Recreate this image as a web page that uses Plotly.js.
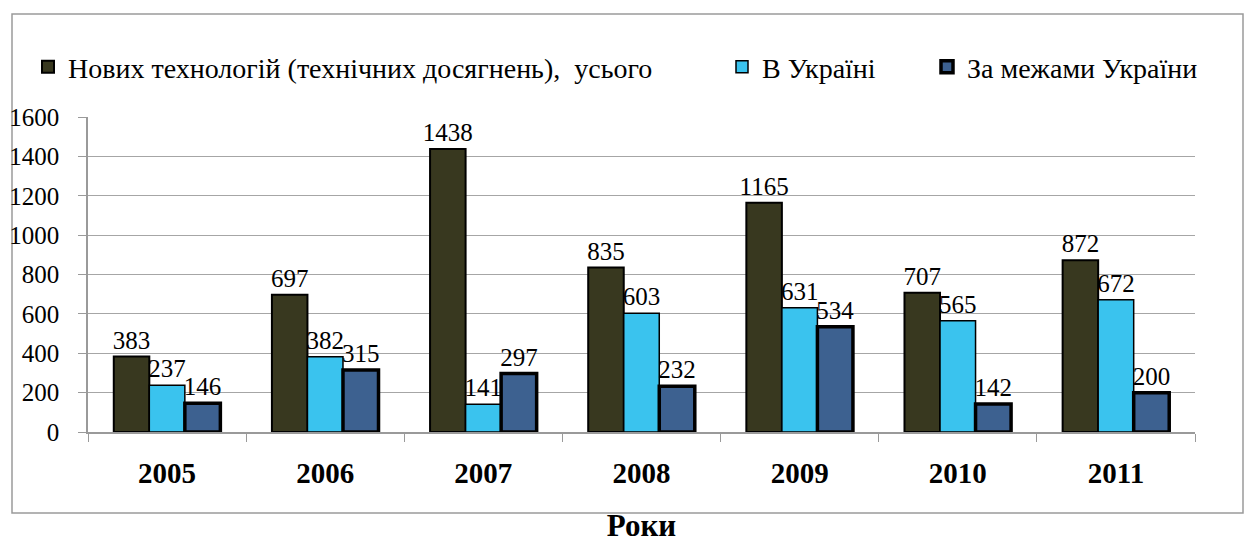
<!DOCTYPE html>
<html>
<head>
<meta charset="utf-8">
<script src="https://cdn.plot.ly/plotly-3.0.1.min.js"></script>
<style>html,body{margin:0;padding:0;background:#fff;}#chart{width:1246px;height:555px;}</style>
</head>
<body>
<div id="chart"></div>
<script>
const years = ['2005', '2006', '2007', '2008', '2009', '2010', '2011'];
const seriesNames = ['Нових технологій (технічних досягнень),  усього', 'В Україні', 'За межами України'];
const totalTech = [383, 697, 1438, 835, 1165, 707, 872];
const inUkraine = [237, 382, 141, 603, 631, 565, 672];
const abroad = [146, 315, 297, 232, 534, 142, 200];
const yTicks = [0, 200, 400, 600, 800, 1000, 1200, 1400, 1600];

const colors = ['#38381f', '#3ac3ee', '#3d6190'];
const lineW = [2, 1.5, 3.5];
const values = [totalTech, inUkraine, abroad];
const legendIds = ['legend', 'legend2', 'legend3'];

const traces = values.map((v, i) => ({
  type: 'bar',
  x: years,
  y: v,
  name: seriesNames[i],
  legend: legendIds[i],
  marker: {color: colors[i], line: {color: '#000', width: lineW[i]}},
  text: v.map(String),
  textposition: 'outside',
  constraintext: 'none',
  cliponaxis: false,
  textfont: {family: 'Tinos', size: 25, color: '#000'},
  hoverinfo: 'x+y+name'
}));

const W = 1107, H = 315, L = 88, T = 117;
const px = x => (x - L) / W;
const py = y => (T + H - y) / H;

const legendBase = {
  orientation: 'h',
  yanchor: 'middle',
  y: py(67),
  xanchor: 'left',
  font: {family: 'Tinos', size: 28, color: '#000'},
  bgcolor: 'rgba(0,0,0,0)',
  itemwidth: 30,
  tracegroupgap: 0
};

const layout = {
  width: 1246,
  height: 555,
  margin: {l: L, r: 1246 - L - W, t: T, b: 555 - T - H},
  paper_bgcolor: '#fff',
  plot_bgcolor: '#fff',
  barmode: 'group',
  bargap: 0.326,
  bargroupgap: 0,
  showlegend: true,
  legend: Object.assign({}, legendBase, {x: px(28)}),
  legend2: Object.assign({}, legendBase, {x: px(722)}),
  legend3: Object.assign({}, legendBase, {x: px(927)}),
  xaxis: {
    type: 'category',
    tickson: 'boundaries',
    ticks: 'outside',
    ticklen: 8,
    tickcolor: '#9a9a9a',
    showline: true,
    linecolor: '#9a9a9a',
    linewidth: 1.5,
    showgrid: false,
    tickfont: {family: 'Liberation Serif', size: 29, color: '#000', weight: 'bold'},
    ticklabelstandoff: 14,
    title: {text: 'Роки', font: {family: 'Liberation Serif', size: 31, color: '#000', weight: 'bold'}}
  },
  yaxis: {
    range: [0, 1600],
    tickvals: yTicks,
    ticks: 'outside',
    ticklen: 8,
    tickcolor: '#9a9a9a',
    showline: true,
    linecolor: '#9a9a9a',
    linewidth: 1.5,
    showgrid: true,
    gridcolor: '#a6a6a6',
    zeroline: false,
    tickfont: {family: 'Times New Roman', size: 25, color: '#000'},
    ticklabelstandoff: 14
  },
  shapes: [{
    type: 'rect', xref: 'paper', yref: 'paper',
    x0: px(12), x1: px(1243), y0: py(513), y1: py(14),
    line: {color: '#9a9a9a', width: 1.5}, fillcolor: 'rgba(0,0,0,0)', layer: 'below'
  }]
};

Plotly.newPlot('chart', traces, layout, {displayModeBar: false});
</script>
</body>
</html>
